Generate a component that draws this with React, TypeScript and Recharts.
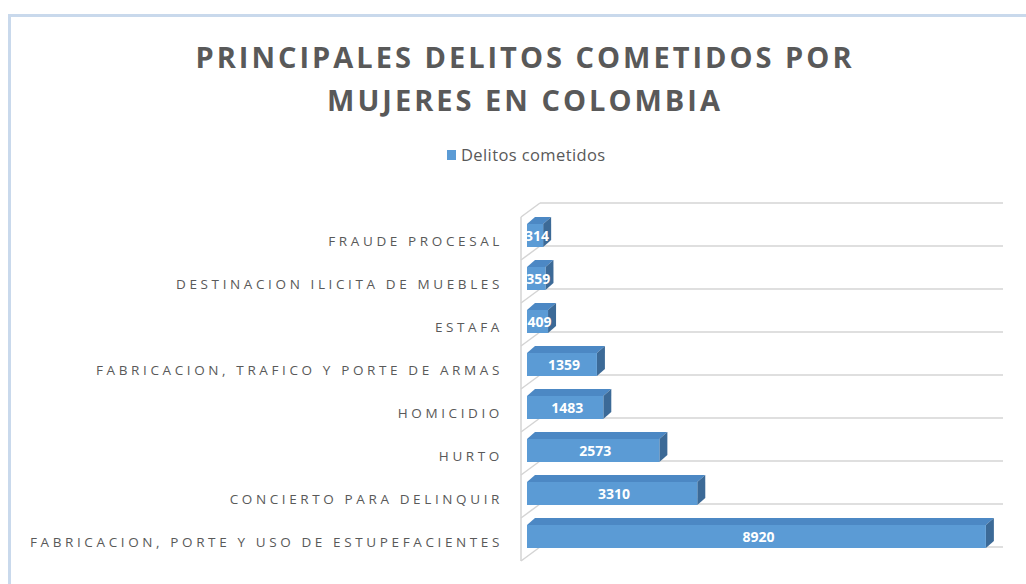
import React from "react";
import { BarChart, Bar, XAxis, YAxis, Customized } from "recharts";

const categories = [
  "FRAUDE PROCESAL",
  "DESTINACION ILICITA DE MUEBLES",
  "ESTAFA",
  "FABRICACION, TRAFICO Y PORTE DE ARMAS",
  "HOMICIDIO",
  "HURTO",
  "CONCIERTO PARA DELINQUIR",
  "FABRICACION, PORTE Y USO DE ESTUPEFACIENTES",
];
const values = [314, 359, 409, 1359, 1483, 2573, 3310, 8920];
const seriesName = "Delitos cometidos";
const titleLines = ["PRINCIPALES DELITOS COMETIDOS POR", "MUJERES EN COLOMBIA"];
const xDomain: [number, number] = [0, 9000];

const data = categories.map((name, i) => ({ name, value: values[i] }));

const W = 1026;
const H = 584;
const AXIS_W = 527;
const MARGIN = { top: 214, right: 36, bottom: 26, left: 0 };
const PLOT_LEFT = MARGIN.left + AXIS_W;
const PLOT_TOP = MARGIN.top;
const PLOT_W = W - PLOT_LEFT - MARGIN.right;
const PLOT_H = H - MARGIN.top - MARGIN.bottom;
const BAND = PLOT_H / categories.length;

const FRONT = "#5B9BD5";
const TOP = "#4C88C4";
const SIDE = "#3C6A97";
const GRID = "#D4D4D4";
const TEXT = "#595959";
const DX = 8;
const DY = 7;

const Walls = () => {
  const fx = PLOT_LEFT - 6;
  const fy = PLOT_TOP + 3;
  const bx = PLOT_LEFT + 13;
  const by = PLOT_TOP - 11;
  const lines = [];
  for (let k = 0; k <= categories.length; k++) {
    lines.push(
      <line key={"g" + k} x1={bx} y1={by + k * BAND} x2={bx + PLOT_W} y2={by + k * BAND} stroke={GRID} strokeWidth={1.5} />
    );
    lines.push(
      <line key={"d" + k} x1={fx} y1={fy + k * BAND} x2={bx} y2={by + k * BAND} stroke={GRID} strokeWidth={1.5} />
    );
  }
  return (
    <g>
      <defs>
        <clipPath id="plotClip">
          <rect x={PLOT_LEFT} y={0} width={W - PLOT_LEFT} height={H} />
        </clipPath>
      </defs>
      {lines}
      <line x1={fx} y1={fy} x2={fx} y2={fy + categories.length * BAND} stroke={GRID} strokeWidth={1.5} />
    </g>
  );
};

const Bar3D = (props: any) => {
  const { x, y, width, height, value } = props;
  if (width == null || height == null) return null;
  const w = Math.max(width, 0);
  return (
    <g>
      <polygon
        points={`${x},${y} ${x + DX},${y - DY} ${x + w + DX},${y - DY} ${x + w},${y}`}
        fill={TOP}
      />
      <polygon
        points={`${x + w},${y} ${x + w + DX},${y - DY} ${x + w + DX},${y + height - DY} ${x + w},${y + height}`}
        fill={SIDE}
      />
      <rect x={x} y={y} width={w} height={height} fill={FRONT} />
      <text
        x={x + w / 2 + 2}
        y={y + height / 2 + 5}
        textAnchor="middle"
        fill="#FFFFFF"
        fontFamily="'Open Sans', sans-serif"
        fontWeight={700}
        fontSize={14}
        clipPath="url(#plotClip)"
      >
        {value}
      </text>
    </g>
  );
};

const CategoryTick = (props: any) => {
  const { y, payload } = props;
  return (
    <text
      x={PLOT_LEFT - 24}
      y={y + 10}
      textAnchor="end"
      fill={TEXT}
      fontFamily="'Open Sans', sans-serif"
      fontSize={13.5}
      letterSpacing={3.62}
    >
      {payload.value}
    </text>
  );
};

export default function App() {
  return (
    <div style={{ position: "absolute", left: 0, top: 0, width: W, height: H, background: "#fff", overflow: "hidden" }}>
      <div
        style={{
          position: "absolute",
          left: 8,
          top: 14,
          width: W + 20,
          height: H + 20,
          border: "3px solid #C9D9EC",
          boxSizing: "border-box",
        }}
      />
      <div style={{ position: "absolute", left: 0, top: 0 }}>
        <BarChart width={W} height={H} data={data} layout="vertical" margin={MARGIN}>
          <XAxis type="number" domain={xDomain} hide />
          <YAxis
            type="category"
            dataKey="name"
            width={AXIS_W}
            axisLine={false}
            tickLine={false}
            tick={<CategoryTick />}
            interval={0}
          />
          <Customized component={<Walls />} />
          <Bar dataKey="value" name={seriesName} barSize={23} shape={<Bar3D />} isAnimationActive={false} />
        </BarChart>
      </div>
      <svg width={W} height={H} style={{ position: "absolute", left: 0, top: 0, pointerEvents: "none" }}>
        {titleLines.map((t, i) => (
          <text
            key={i}
            x={525}
            y={68 + i * 43}
            textAnchor="middle"
            fill={TEXT}
            fontFamily="'Open Sans', sans-serif"
            fontWeight={700}
            fontSize={29}
            letterSpacing={3}
          >
            {t}
          </text>
        ))}
        <rect x={447} y={150} width={9} height={10} fill={FRONT} />
        <text x={461} y={161} fill={TEXT} fontFamily="'Open Sans', sans-serif" fontSize={16.5} letterSpacing={0.4}>
          {seriesName}
        </text>
      </svg>
    </div>
  );
}
